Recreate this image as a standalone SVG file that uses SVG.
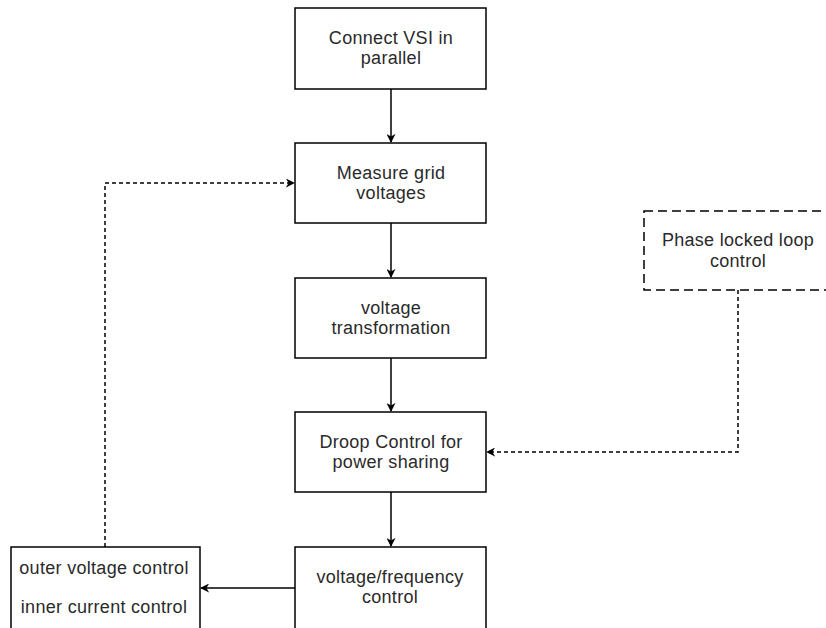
<svg xmlns="http://www.w3.org/2000/svg" width="826" height="628" viewBox="0 0 826 628">
<defs>
<style>
.box{fill:#fff;stroke:#000;stroke-width:1.5}
.dbox{fill:#fff;stroke:#000;stroke-width:1.5;stroke-dasharray:9 5}
.t{font-family:"Liberation Sans",Arial,sans-serif;font-size:18px;letter-spacing:0.3px;fill:#2a2a2a;text-anchor:middle}
.c{fill:none;stroke:#000;stroke-width:1.5}
.d{fill:none;stroke:#000;stroke-width:1.5;stroke-dasharray:4 3}
</style>
<marker id="ah" viewBox="0 0 10 10" refX="9" refY="5" markerWidth="9" markerHeight="9" markerUnits="userSpaceOnUse" orient="auto"><path d="M0,0 L10,5 L0,10 L3,5 Z" fill="#000"/></marker>
</defs>
<rect width="826" height="628" fill="#fff"/>
<g id="connectors">
<line class="c" x1="391" y1="89" x2="391" y2="142" marker-end="url(#ah)"/>
<line class="c" x1="391" y1="223" x2="391" y2="277" marker-end="url(#ah)"/>
<line class="c" x1="391" y1="358" x2="391" y2="411" marker-end="url(#ah)"/>
<line class="c" x1="391" y1="492" x2="391" y2="546" marker-end="url(#ah)"/>
<line class="c" x1="295" y1="588" x2="201" y2="588" marker-end="url(#ah)"/>
<polyline class="d" points="105,547 105,183 294,183" marker-end="url(#ah)"/>
<polyline class="d" points="738,290 738,452 487,452" marker-end="url(#ah)"/>
</g>
<g id="n1"><rect class="box" x="295" y="8" width="191" height="81"/><text class="t" x="391" y="44">Connect VSI in</text><text class="t" x="391" y="64">parallel</text></g>
<g id="n2"><rect class="box" x="295" y="143" width="191" height="80"/><text class="t" x="391" y="179">Measure grid</text><text class="t" x="391" y="199">voltages</text></g>
<g id="n3"><rect class="box" x="295" y="278" width="191" height="80"/><text class="t" x="391" y="314">voltage</text><text class="t" x="391" y="334">transformation</text></g>
<g id="n4"><rect class="box" x="295" y="412" width="191" height="80"/><text class="t" x="391" y="448">Droop Control for</text><text class="t" x="391" y="468">power sharing</text></g>
<g id="n5"><rect class="box" x="295" y="547" width="191" height="90"/><text class="t" x="390" y="583">voltage/frequency</text><text class="t" x="390" y="603">control</text></g>
<g id="n6"><rect class="box" x="11" y="547" width="189" height="90"/><text class="t" x="104" y="574">outer voltage control</text><text class="t" x="104" y="613">inner current control</text></g>
<g id="n7"><rect class="dbox" x="644" y="211" width="188" height="79"/><text class="t" x="738" y="246">Phase locked loop</text><text class="t" x="738" y="267">control</text></g>
</svg>
